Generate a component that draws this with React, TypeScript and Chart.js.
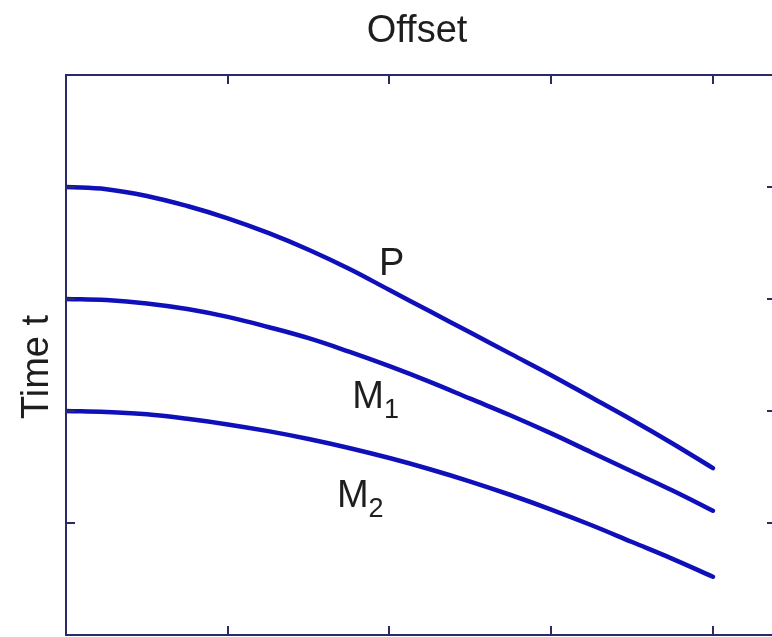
import React, { useEffect, useRef } from "react";
import { Chart, registerables } from "chart.js";

Chart.register(...registerables);

// Offset positions sampled along each event
const offsets = [0, 0.25, 0.5, 0.75, 1, 1.25, 1.5, 1.75, 2, 2.25, 2.5, 2.75, 3, 3.25, 3.5, 3.75, 4];

// Travel times of the primary event and its multiples
const primaryP = [1.0, 1.02, 1.08, 1.17, 1.28, 1.41, 1.56, 1.73, 1.92, 2.11, 2.3, 2.49, 2.68, 2.88, 3.08, 3.29, 3.51];
const multipleM1 = [2.0, 2.01, 2.04, 2.09, 2.16, 2.25, 2.35, 2.47, 2.6, 2.74, 2.89, 3.04, 3.2, 3.37, 3.54, 3.71, 3.89];
const multipleM2 = [3.0, 3.01, 3.03, 3.07, 3.12, 3.18, 3.25, 3.33, 3.42, 3.52, 3.63, 3.75, 3.88, 4.02, 4.17, 4.32, 4.48];

// Axis extents and tick values
const offsetMax = 4.39;
const timeMax = 5;
const offsetTicks = [1, 2, 3, 4];
const timeTicks = [1, 2, 3, 4];

// Event labels: main text, subscript, anchor (offset, time at baseline)
const eventLabels: { text: string; sub: string; x: number; t: number }[] = [
  { text: "P", sub: "", x: 1.935, t: 1.786 },
  { text: "M", sub: "1", x: 1.77, t: 2.973 },
  { text: "M", sub: "2", x: 1.675, t: 3.857 },
];

const FONT = '"Liberation Sans", Arial, sans-serif';
const LINE_COLOR = "rgb(16,16,186)";
const AXIS_COLOR = "#2a2a66";
const TEXT_COLOR = "#1e1e1e";

const framePlugin = {
  id: "frame",
  afterDatasetsDraw(chart: any) {
    const { ctx, chartArea } = chart;
    const xs = chart.scales.x;
    const ys = chart.scales.y;
    const { left, right, top, bottom } = chartArea;
    const tickLen = 9;

    ctx.save();
    ctx.strokeStyle = AXIS_COLOR;
    ctx.lineWidth = 2;
    ctx.strokeRect(left, top, right - left, bottom - top);

    ctx.beginPath();
    offsetTicks.forEach((v) => {
      const px = Math.round(xs.getPixelForValue(v));
      ctx.moveTo(px, top);
      ctx.lineTo(px, top + tickLen);
      ctx.moveTo(px, bottom);
      ctx.lineTo(px, bottom - tickLen);
    });
    timeTicks.forEach((v) => {
      const py = Math.round(ys.getPixelForValue(v));
      ctx.moveTo(left, py);
      ctx.lineTo(left + tickLen, py);
      ctx.moveTo(right, py);
      ctx.lineTo(right - tickLen, py);
    });
    ctx.stroke();

    // event labels
    ctx.fillStyle = TEXT_COLOR;
    ctx.textBaseline = "alphabetic";
    ctx.textAlign = "left";
    eventLabels.forEach((l) => {
      const px = xs.getPixelForValue(l.x);
      const py = ys.getPixelForValue(l.t);
      ctx.font = `38px ${FONT}`;
      ctx.fillText(l.text, px, py);
      if (l.sub) {
        const w = ctx.measureText(l.text).width;
        ctx.font = `27px ${FONT}`;
        ctx.fillText(l.sub, px + w, py + 10);
      }
    });

    // axis titles
    ctx.font = `38px ${FONT}`;
    ctx.textAlign = "center";
    ctx.fillText("Offset", (left + right) / 2 - 4, 42);

    ctx.save();
    ctx.translate(48, (top + bottom) / 2 + 12);
    ctx.rotate(-Math.PI / 2);
    ctx.fillText("Time t", 0, 0);
    ctx.restore();

    ctx.restore();
  },
};

export default function App() {
  const canvasRef = useRef<HTMLCanvasElement | null>(null);

  useEffect(() => {
    const canvas = canvasRef.current;
    if (!canvas) return;
    const toPoints = (ys: number[]) => offsets.map((x, i) => ({ x, y: ys[i] }));
    const series = [
      { label: "P", data: toPoints(primaryP) },
      { label: "M1", data: toPoints(multipleM1) },
      { label: "M2", data: toPoints(multipleM2) },
    ];
    const chart = new Chart(canvas, {
      type: "line",
      data: {
        datasets: series.map((s) => ({
          label: s.label,
          data: s.data,
          borderColor: LINE_COLOR,
          borderWidth: 4.5,
          pointRadius: 0,
          tension: 0.4,
          borderCapStyle: "round" as const,
          borderJoinStyle: "round" as const,
          fill: false,
        })),
      },
      options: {
        animation: false,
        responsive: false,
        devicePixelRatio: 1,
        layout: { padding: { left: 66, top: 75, right: 14, bottom: 2 } },
        plugins: { legend: { display: false }, tooltip: { enabled: false }, title: { display: false } },
        scales: {
          x: { type: "linear", min: 0, max: offsetMax, display: false },
          y: { type: "linear", min: 0, max: timeMax, reverse: true, display: false },
        },
      },
      plugins: [framePlugin],
    });
    return () => chart.destroy();
  }, []);

  return (
    <div
      style={{
        position: "fixed",
        left: 0,
        top: 0,
        width: 772,
        height: 637,
        overflow: "hidden",
        background: "#fff",
      }}
    >
      <canvas ref={canvasRef} width={790} height={637} style={{ width: 790, height: 637, display: "block" }} />
    </div>
  );
}
